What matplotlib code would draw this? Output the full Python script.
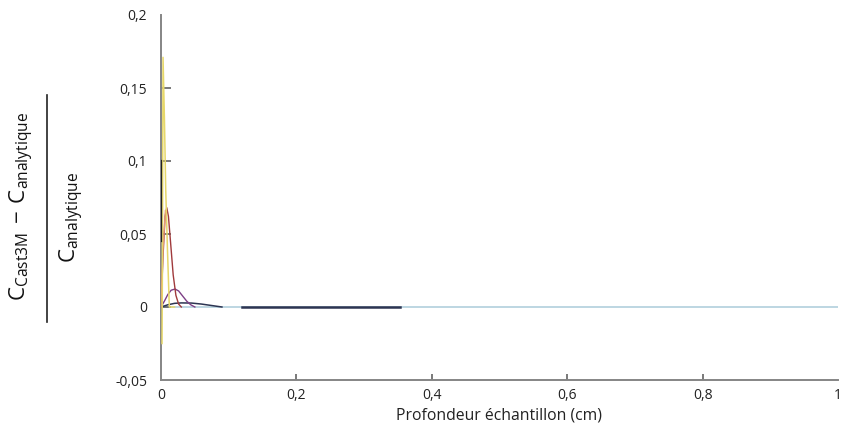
import matplotlib
matplotlib.use("Agg")
import matplotlib.pyplot as plt
from matplotlib.lines import Line2D

# --- data ---
x_yellow = [0.0015, 0.002, 0.003, 0.005, 0.007, 0.0095, 0.0123, 0.02]
y_yellow = [-0.025, 0.02, 0.171, 0.13, 0.08, 0.04, 0.0, 0.0]

x_orange = [0.0, 0.003, 0.0065]
y_orange = [0.0, 0.04, 0.066]

x_red = [0.0, 0.003, 0.006, 0.0085, 0.011, 0.014, 0.018, 0.022, 0.026, 0.03]
y_red = [0.0, 0.035, 0.062, 0.068, 0.062, 0.045, 0.022, 0.008, 0.002, 0.0]

x_purple = [0.0, 0.005, 0.01, 0.015, 0.0207, 0.026, 0.032, 0.038, 0.044, 0.05]
y_purple = [0.0, 0.004, 0.0085, 0.0115, 0.0123, 0.011, 0.0075, 0.004, 0.0015, 0.0]

x_navy = [0.0, 0.01, 0.02, 0.03, 0.045, 0.06, 0.075, 0.09]
y_navy = [0.0, 0.0015, 0.0025, 0.0028, 0.0027, 0.002, 0.001, 0.0]

x_navy_flat = [0.119, 0.353]
y_navy_flat = [0.0, 0.0]

x_black = [0.0, 0.0]
y_black = [0.1, 0.045]

x_lightblue = [0.0, 1.0]
y_lightblue = [0.0, 0.0]

x_ticks = [0, 0.2, 0.4, 0.6, 0.8, 1]
x_ticklabels = ["0", "0,2", "0,4", "0,6", "0,8", "1"]
y_ticks = [-0.05, 0, 0.05, 0.1, 0.15, 0.2]
y_ticklabels = ["-0,05", "0", "0,05", "0,1", "0,15", "0,2"]

plt.rcParams['font.family'] = ['Open Sans', 'DejaVu Sans']

fig = plt.figure(figsize=(8.45, 4.41), dpi=100)
ax = fig.add_axes([161/845, 1-380/441, (838-161)/845, (380-15)/441])

ax.plot(x_lightblue, y_lightblue, color='#b7d3df', lw=1.3, zorder=1)
ax.plot(x_navy_flat, y_navy_flat, color='#2d3552', lw=1.8, zorder=3)
ax.plot(x_navy, y_navy, color='#2d3552', lw=1.1, zorder=3)
ax.plot(x_purple, y_purple, color='#7d3f86', lw=1.0, zorder=3)
ax.plot(x_red, y_red, color='#a03a3c', lw=1.0, zorder=3)
ax.plot(x_orange, y_orange, color='#e59a72', lw=1.0, zorder=3)
ax.plot(x_yellow, y_yellow, color='#e6d76a', lw=1.1, zorder=4, clip_on=False)
ax.plot(x_black, y_black, color='#222222', lw=1.6, zorder=5)

ax.set_xlim(0, 1)
ax.set_ylim(-0.05, 0.2)
ax.set_xticks(x_ticks)
ax.set_xticklabels(x_ticklabels)
ax.set_yticks(y_ticks)
ax.set_yticklabels(y_ticklabels)
for s in ['top', 'right']:
    ax.spines[s].set_visible(False)
for s in ['left', 'bottom']:
    ax.spines[s].set_color('#858585')
    ax.spines[s].set_linewidth(1.4)
ax.tick_params(axis='both', direction='in', width=1.1, color='#555555',
               labelsize=10, labelcolor='#222222')
ax.tick_params(axis='x', length=4, pad=6)
ax.tick_params(axis='y', length=7, pad=10)

# hide tick marks at the axis ends (as in the reference)
xt = ax.xaxis.get_major_ticks()
for t in (xt[0], xt[-1]):
    t.tick1line.set_visible(False)
yt = ax.yaxis.get_major_ticks()
for t in (yt[0], yt[-1]):
    t.tick1line.set_visible(False)

ax.set_xlabel("Profondeur échantillon (cm)", fontsize=11.3, color='#222222', labelpad=3)

# y label drawn as a fraction
fig.text(22/845, 1-206/441, r'$\mathregular{C_{Cast3M}\,-\,C_{analytique}}$', rotation=90,
         ha='center', va='center', fontsize=16, color='#111111')
fig.text(72/845, 1-217/441, r'$\mathregular{C_{analytique}}$', rotation=90,
         ha='center', va='center', fontsize=16, color='#111111')
fig.add_artist(Line2D([47/845, 47/845], [1-95/441, 1-322/441], color='#222222', lw=1.2))

fig.savefig("out.png", dpi=100)
